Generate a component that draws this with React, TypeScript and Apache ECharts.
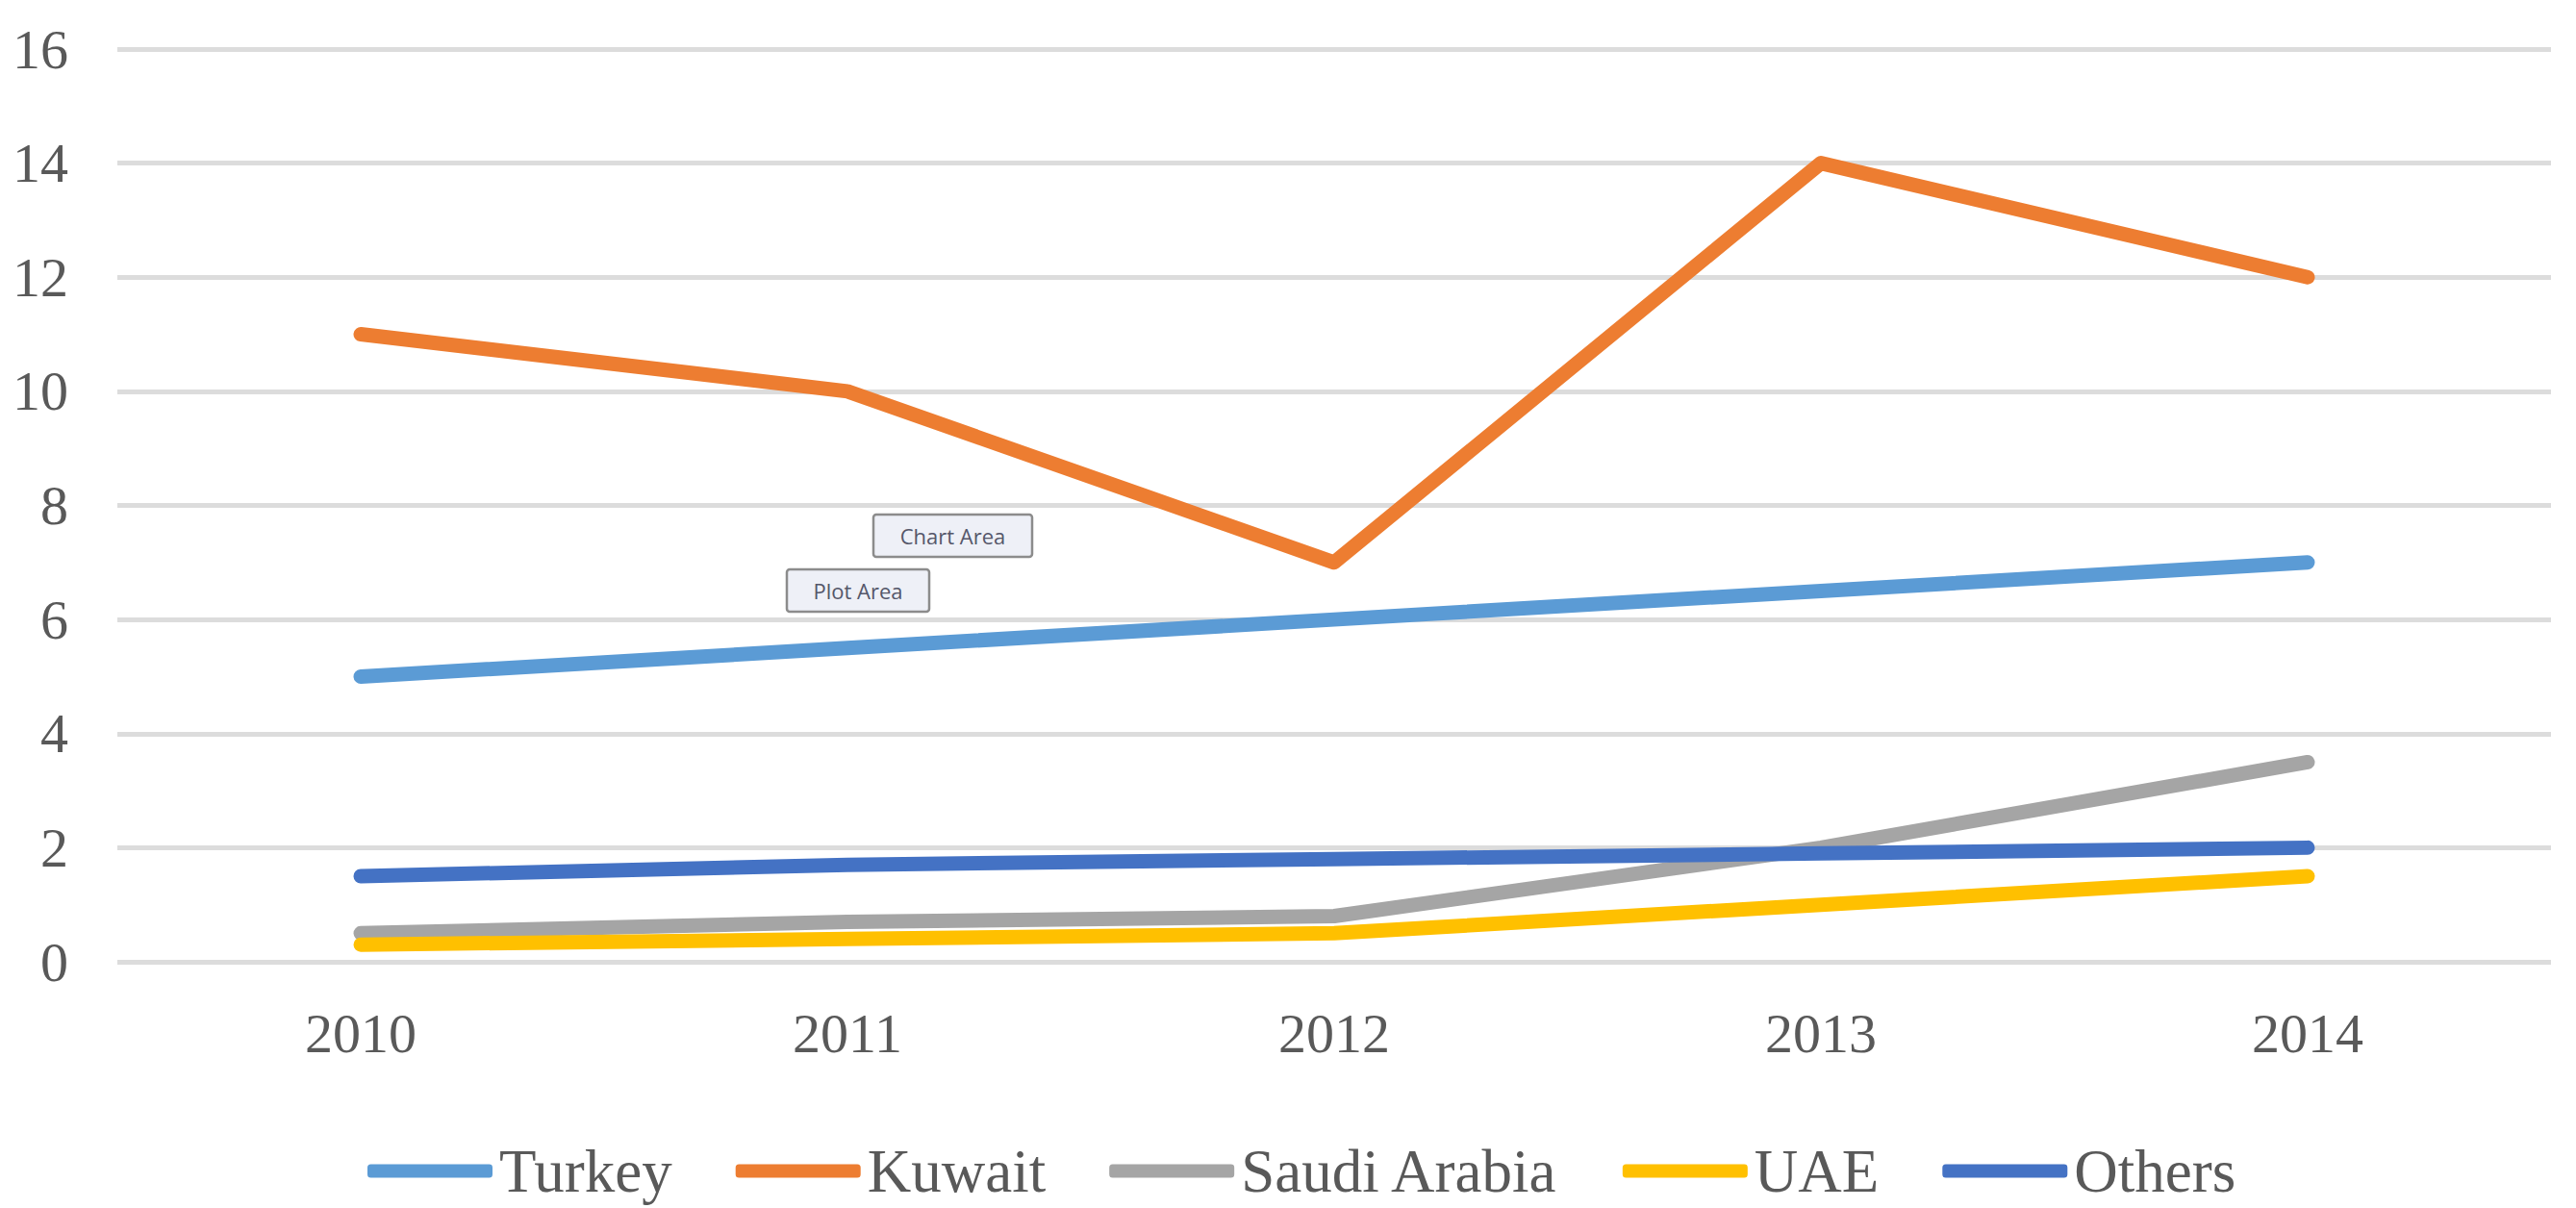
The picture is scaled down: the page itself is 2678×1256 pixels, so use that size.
import React, { useEffect, useRef } from "react";
import * as echarts from "echarts";

const years = ["2010", "2011", "2012", "2013", "2014"];
const turkey = [5, 5.5, 6, 6.5, 7];
const kuwait = [11, 10, 7, 14, 12];
const saudiArabia = [0.5, 0.7, 0.8, 2, 3.5];
const uae = [0.3, 0.4, 0.5, 1, 1.5];
const others = [1.5, 1.7, 1.8, 1.9, 2];

const seriesNames = ["Turkey", "Kuwait", "Saudi Arabia", "UAE", "Others"];
const seriesColors = ["#5B9BD5", "#ED7D31", "#A5A5A5", "#FFC000", "#4472C4"];
const seriesValues = [turkey, kuwait, saudiArabia, uae, others];

const SERIF = "'Liberation Serif', 'DejaVu Serif', serif";
const SANS = "'Open Sans', 'Noto Sans', sans-serif";

function tooltipBox(label: string, x: number, y: number, w: number, h: number) {
  return {
    type: "group",
    x,
    y,
    children: [
      {
        type: "rect",
        shape: { x: 0, y: 0, width: w, height: h, r: 3 },
        style: { fill: "#eef0f7", stroke: "#8c8c8c", lineWidth: 2.5 },
      },
      {
        type: "text",
        x: w / 2,
        y: h / 2,
        style: {
          text: label,
          fill: "#55576a",
          font: `22px ${SANS}`,
          align: "center",
          verticalAlign: "middle",
        },
      },
    ],
  };
}

export default function App() {
  const ref = useRef<HTMLDivElement>(null);

  useEffect(() => {
    if (!ref.current) return;
    const chart = echarts.init(ref.current, undefined, { renderer: "svg" });
    chart.setOption({
      animation: false,
      backgroundColor: "#ffffff",
      grid: { left: 122, right: 26, top: 51, bottom: 256, containLabel: false },
      xAxis: {
        type: "category",
        data: years,
        boundaryGap: true,
        axisLine: { show: false },
        axisTick: { show: false },
        splitLine: { show: false },
        axisLabel: {
          color: "#595959",
          fontSize: 58,
          fontFamily: SERIF,
          margin: 45,
        },
      },
      yAxis: {
        type: "value",
        min: 0,
        max: 16,
        interval: 2,
        axisLine: { show: false },
        axisTick: { show: false },
        splitLine: { show: true, lineStyle: { color: "#dcdcdc", width: 5 } },
        axisLabel: {
          color: "#595959",
          fontSize: 58,
          fontFamily: SERIF,
          margin: 51,
        },
      },
      legend: {
        data: seriesNames,
        left: 377,
        top: 1181,
        icon: "roundRect",
        itemWidth: 130,
        itemHeight: 14,
        itemGap: 66,
        textStyle: {
          color: "#595959",
          fontSize: 63,
          fontFamily: SERIF,
          padding: [0, 0, 0, 2],
        },
      },
      graphic: [
        tooltipBox("Chart Area", 908, 535, 165, 44),
        tooltipBox("Plot Area", 818, 592, 148, 44),
      ],
      series: seriesNames.map((name, i) => ({
        name,
        type: "line",
        data: seriesValues[i],
        symbol: "none",
        smooth: false,
        color: seriesColors[i],
        lineStyle: { color: seriesColors[i], width: 15, cap: "round", join: "round" },
        itemStyle: { color: seriesColors[i] },
        emphasis: { disabled: true },
      })),
    });
    return () => chart.dispose();
  }, []);

  return (
    <div
      ref={ref}
      style={{ position: "fixed", left: 0, top: 0, width: "2678px", height: "1256px" }}
    />
  );
}
